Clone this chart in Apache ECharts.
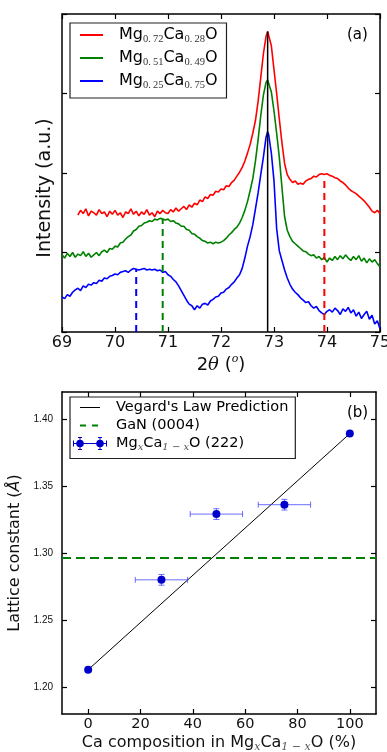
<!DOCTYPE html>
<html>
<head>
<meta charset="utf-8">
<script src="https://cdn.jsdelivr.net/npm/echarts@6/dist/echarts.min.js"></script>
<style>
html, body { margin: 0; padding: 0; background: #fff; }
#main { width: 387px; height: 752px; }
</style>
</head>
<body>
<div id="main"></div>
<script>
// ---- panel (a): XRD 2theta scans, offset intensities (a.u.) ----
const twoTheta = [
  69.00, 69.05, 69.10, 69.15, 69.20, 69.25, 69.30, 69.35, 69.40, 69.45,
  69.50, 69.55, 69.60, 69.65, 69.70, 69.75, 69.80, 69.85, 69.90, 69.95,
  70.00, 70.05, 70.10, 70.15, 70.20, 70.25, 70.30, 70.35, 70.40, 70.45,
  70.50, 70.55, 70.60, 70.65, 70.70, 70.75, 70.80, 70.85, 70.90, 70.95,
  71.00, 71.05, 71.10, 71.15, 71.20, 71.25, 71.30, 71.35, 71.40, 71.45,
  71.50, 71.55, 71.60, 71.65, 71.70, 71.75, 71.80, 71.85, 71.90, 71.95,
  72.00, 72.05, 72.10, 72.15, 72.20, 72.25, 72.30, 72.35, 72.40, 72.45,
  72.50, 72.55, 72.60, 72.65, 72.70, 72.75, 72.80, 72.85, 72.88, 72.90, 72.95,
  73.00, 73.05, 73.10, 73.15, 73.20, 73.25, 73.30, 73.35, 73.40, 73.45,
  73.50, 73.55, 73.60, 73.65, 73.70, 73.75, 73.80, 73.85, 73.90, 73.95,
  74.00, 74.05, 74.10, 74.15, 74.20, 74.25, 74.30, 74.35, 74.40, 74.45,
  74.50, 74.55, 74.60, 74.65, 74.70, 74.75, 74.80, 74.85, 74.90, 74.95,
  75.00
];
const iRed = [
  null, null, null, null, null, null, 1.47, 1.53, 1.49, 1.55,
  1.46, 1.52, 1.50, 1.47, 1.54, 1.49, 1.51, 1.45, 1.52, 1.48,
  1.53, 1.47, 1.50, 1.44, 1.51, 1.49, 1.55, 1.48, 1.52, 1.46,
  1.51, 1.48, 1.54, 1.47, 1.50, 1.45, 1.52, 1.49, 1.53, 1.50,
  1.49, 1.54, 1.51, 1.56, 1.52, 1.55, 1.58, 1.54, 1.60, 1.57,
  1.62, 1.60, 1.66, 1.64, 1.70, 1.68, 1.73, 1.72, 1.77, 1.76,
  1.80, 1.79, 1.84, 1.83, 1.88, 1.91, 1.96, 2.01, 2.07, 2.15,
  2.25, 2.36, 2.50, 2.66, 2.90, 3.20, 3.50, 3.72, 3.78, 3.76, 3.60,
  3.30, 3.00, 2.68, 2.38, 2.12, 1.98, 1.92, 1.88, 1.90, 1.86,
  1.87, 1.86, 1.90, 1.92, 1.93, 1.96, 1.95, 1.98, 1.99, 1.98,
  1.99, 1.97, 1.96, 1.94, 1.93, 1.90, 1.88, 1.85, 1.81, 1.78,
  1.76, 1.74, 1.71, 1.68, 1.65, 1.61, 1.57, 1.52, 1.50, 1.53,
  1.49
];
const iGreen = [
  0.97, 0.93, 0.99, 0.95, 1.00, 0.94, 0.98, 0.96, 1.01, 0.95,
  0.99, 0.94, 0.97, 1.00, 0.96, 1.01, 1.03, 1.00, 1.05, 1.04,
  1.08, 1.07, 1.12, 1.13, 1.17, 1.20, 1.22, 1.27, 1.29, 1.33,
  1.34, 1.37, 1.38, 1.40, 1.39, 1.42, 1.41, 1.43, 1.42, 1.41,
  1.42, 1.39, 1.40, 1.37, 1.36, 1.33, 1.33, 1.29, 1.28, 1.24,
  1.23, 1.20, 1.18, 1.15, 1.14, 1.12, 1.13, 1.11, 1.13, 1.12,
  1.13, 1.15, 1.18, 1.22, 1.25, 1.29, 1.32, 1.37, 1.44, 1.53,
  1.64, 1.78, 1.93, 2.15, 2.42, 2.72, 2.98, 3.14, 3.17, 3.15, 3.02,
  2.78, 2.50, 2.20, 1.82, 1.45, 1.28, 1.20, 1.14, 1.11, 1.08,
  1.05, 1.02, 1.01, 0.98, 0.96, 0.97, 0.93, 0.95, 0.91, 0.94,
  0.88, 0.93, 0.90, 0.95, 0.91, 0.96, 0.92, 0.97, 0.93, 0.90,
  0.95, 0.91, 0.96, 0.89, 0.93, 0.87, 0.92, 0.88, 0.91, 0.86,
  0.82
];
const iBlue = [
  0.44, 0.42, 0.47, 0.45, 0.50, 0.53, 0.55, 0.52, 0.58, 0.56,
  0.60, 0.59, 0.62, 0.61, 0.65, 0.64, 0.68, 0.67, 0.70, 0.71,
  0.73, 0.72, 0.75, 0.76, 0.77, 0.75, 0.78, 0.80, 0.79, 0.78,
  0.79, 0.80, 0.78, 0.79, 0.78, 0.79, 0.77, 0.78, 0.75, 0.76,
  0.72, 0.70, 0.66, 0.63, 0.58, 0.52, 0.46, 0.40, 0.35, 0.33,
  0.28, 0.33, 0.30, 0.35, 0.36, 0.34, 0.39, 0.41, 0.44, 0.45,
  0.49, 0.50, 0.54, 0.56, 0.60, 0.63, 0.68, 0.72, 0.80, 0.93,
  1.08, 1.20, 1.35, 1.55, 1.75, 1.98, 2.20, 2.45, 2.52, 2.48, 2.25,
  1.90, 1.30, 1.02, 0.90, 0.78, 0.68, 0.60, 0.54, 0.50, 0.47,
  0.43, 0.40, 0.37, 0.38, 0.33, 0.30, 0.32, 0.27, 0.24, 0.22,
  0.26, 0.28, 0.25, 0.30, 0.27, 0.22, 0.29, 0.26, 0.31, 0.24,
  0.28, 0.20, 0.25, 0.17, 0.22, 0.26, 0.16, 0.21, 0.10, 0.14,
  0.04
];
const sampleNames = ['Mg0.72Ca0.28O', 'Mg0.51Ca0.49O', 'Mg0.25Ca0.75O'];
const sampleColors = ['#ff0000', '#008000', '#0000ff'];
const peakPos = [73.95, 70.90, 70.40];   // fitted MgCaO (222) positions
const peakTop = [1.90, 1.42, 0.79];
const ganPeakPos = 72.88;
const ganPeakTop = 3.78;

// ---- panel (b): lattice constant vs Ca content ----
const caPct = [0, 28, 49, 75, 100];
const latticeA = [1.213, 1.280, 1.329, 1.336, 1.389];
const caErr = [0, 10, 10, 10, 0];
const latErr = [0, 0.004, 0.004, 0.004, 0];
const vegardCa = [0, 100];
const vegardA = [1.213, 1.389];
const ganA = 1.2963;
const caTicks = [0, 20, 40, 60, 80, 100];
const latTicks = [1.20, 1.25, 1.30, 1.35, 1.40];

const FONT = 'DejaVu Sans';
const curves = [iRed, iGreen, iBlue];

const chart = echarts.init(document.getElementById('main'));

function pairs(ys) {
  return twoTheta.map((x, i) => [x, ys[i]]);
}

// matplotlib-ish frame: inward ticks on all four sides
function frameAxis(gridIndex, position, extra) {
  return Object.assign({
    type: 'value',
    gridIndex: gridIndex,
    position: position,
    axisLine: { onZero: false, lineStyle: { color: '#000', width: 1.5 } },
    axisTick: { inside: true, length: 5, lineStyle: { color: '#000', width: 1.2 } },
    axisLabel: { show: false },
    splitLine: { show: false }
  }, extra);
}

const mgName = 'MgxCa1-xO (222)';

function renderErrBar(params, api) {
  const x = api.value(0), y = api.value(1), dx = api.value(2), dy = api.value(3);
  if (!dx && !dy) return null;
  const l = api.coord([x - dx, y]);
  const r = api.coord([x + dx, y]);
  const t = api.coord([x, y + dy]);
  const b = api.coord([x, y - dy]);
  const cap = 3;
  const style = { stroke: 'rgba(60,60,255,0.75)', lineWidth: 1 };
  const seg = (x1, y1, x2, y2) => ({ type: 'line', shape: { x1, y1, x2, y2 }, style: style });
  return {
    type: 'group',
    children: [
      seg(l[0], l[1], r[0], r[1]),
      seg(l[0], l[1] - cap, l[0], l[1] + cap),
      seg(r[0], r[1] - cap, r[0], r[1] + cap),
      seg(t[0], t[1], b[0], b[1]),
      seg(t[0] - cap, t[1], t[0] + cap, t[1]),
      seg(b[0] - cap, b[1], b[0] + cap, b[1])
    ]
  };
}

const series = [];
sampleNames.forEach(function (n, k) {
  series.push({
    name: n,
    type: 'line',
    xAxisIndex: 0,
    yAxisIndex: 0,
    data: pairs(curves[k]),
    symbol: 'none',
    lineStyle: { color: sampleColors[k], width: 1.6 },
    itemStyle: { color: sampleColors[k] },
    z: 2
  });
});
peakPos.forEach(function (p, k) {
  series.push({
    type: 'line',
    xAxisIndex: 0,
    yAxisIndex: 0,
    data: [[p, 0], [p, peakTop[k]]],
    symbol: 'none',
    lineStyle: { color: sampleColors[k], width: 2, type: [7, 5] },
    z: 3
  });
});
series.push({
  type: 'line',
  xAxisIndex: 0,
  yAxisIndex: 0,
  data: [[ganPeakPos, 0], [ganPeakPos, ganPeakTop]],
  symbol: 'none',
  lineStyle: { color: '#000', width: 1.5 },
  z: 4
});

series.push({
  name: "Vegard's Law Prediction",
  type: 'line',
  xAxisIndex: 2,
  yAxisIndex: 2,
  data: vegardCa.map((c, i) => [c, vegardA[i]]),
  symbol: 'none',
  lineStyle: { color: '#000', width: 1 },
  itemStyle: { color: '#000' },
  z: 2
});
series.push({
  name: 'GaN (0004)',
  type: 'line',
  xAxisIndex: 2,
  yAxisIndex: 2,
  data: [[-10, ganA], [110, ganA]],
  symbol: 'none',
  lineStyle: { color: '#008000', width: 2, type: [9, 5] },
  itemStyle: { color: '#008000' },
  z: 2
});
series.push({
  name: 'errbars',
  type: 'custom',
  xAxisIndex: 2,
  yAxisIndex: 2,
  renderItem: renderErrBar,
  encode: { x: 0, y: 1 },
  data: caPct.map((c, i) => [c, latticeA[i], caErr[i], latErr[i]]),
  z: 3
});
series.push({
  name: mgName,
  type: 'scatter',
  xAxisIndex: 2,
  yAxisIndex: 2,
  data: caPct.map((c, i) => [c, latticeA[i]]),
  symbolSize: 8,
  itemStyle: { color: '#0000cc', opacity: 1 },
  z: 4
});

const subStyle = { fontSize: 10.5, fontFamily: 'Liberation Serif', color: '#333', verticalAlign: 'bottom' };

const option = {
  animation: false,
  backgroundColor: '#fff',
  textStyle: { fontFamily: FONT },
  title: [
    { text: '(a)', left: 347, top: 28, padding: 0,
      textStyle: { fontSize: 15, fontWeight: 'normal', color: '#000', fontFamily: FONT } },
    { text: '(b)', left: 347, top: 406, padding: 0,
      textStyle: { fontSize: 15, fontWeight: 'normal', color: '#000', fontFamily: FONT } }
  ],
  grid: [
    { left: 62, top: 14, width: 318, height: 318, outerBoundsMode: 'none' },
    { left: 62, top: 392, width: 314, height: 322, outerBoundsMode: 'none' }
  ],
  legend: [
    {
      orient: 'vertical',
      left: 70,
      top: 23,
      padding: [4, 9, 7, 10],
      itemWidth: 23,
      itemHeight: 14,
      itemGap: 5,
      selectedMode: false,
      backgroundColor: '#fff',
      borderColor: '#222',
      borderWidth: 1.2,
      borderRadius: 0,
      itemStyle: { borderWidth: 0 },
      data: sampleNames.map(n => ({ name: n, icon: 'path://M0,0H23V2H0Z' })),
      formatter: function (name) {
        const m = name.match(/Mg([\d.]+)Ca([\d.]+)O/);
        const sp = s => s.replace('.', '.\u2009');
        return '{g| }{m|Mg}{s|' + sp(m[1]) + '}{m|Ca}{s|' + sp(m[2]) + '}{m|O}';
      },
      textStyle: {
        rich: {
          g: { width: 11 },
          m: { fontSize: 16, lineHeight: 20, fontFamily: FONT, color: '#000' },
          s: subStyle
        }
      }
    },
    {
      orient: 'vertical',
      left: 70,
      top: 397,
      padding: [3, 7, 6, 3],
      itemWidth: 34,
      itemHeight: 14,
      itemGap: 3,
      selectedMode: false,
      backgroundColor: '#fff',
      borderColor: '#222',
      borderWidth: 1.2,
      borderRadius: 0,
      itemStyle: { borderWidth: 0, opacity: 1 },
      data: [
        { name: "Vegard's Law Prediction", icon: 'path://M0,0L0,0M34,14L34,14M7,6.5H27V7.5H7Z' },
        { name: 'GaN (0004)', icon: 'path://M0,0L0,0M34,14L34,14M7,6H13V8H7ZM19,6H25V8H19Z' },
        { name: mgName, icon: 'path://M0,0L0,0M34,14L34,14M0,6.5H34V7.5H0ZM0,4H1V10H0ZM33,4H34V10H33Z' +
          'M6.5,0.5H7.5V13.5H6.5ZM5,0.5H9V1.5H5ZM5,12.5H9V13.5H5Z' +
          'M26.5,0.5H27.5V13.5H26.5ZM25,0.5H29V1.5H25ZM25,12.5H29V13.5H25Z' +
          'M3.2,7a3.8,3.8 0 1,1 7.6,0a3.8,3.8 0 1,1 -7.6,0Z' +
          'M23.2,7a3.8,3.8 0 1,1 7.6,0a3.8,3.8 0 1,1 -7.6,0Z' }
      ],
      formatter: function (name) {
        if (name === mgName) {
          return '{g| }{m|Mg}{s|x}{m|Ca}{s|1 \u2212 x}{m|O (222)}';
        }
        return '{g| }{m|' + name + '}';
      },
      textStyle: {
        rich: {
          g: { width: 4 },
          m: { fontSize: 14.5, lineHeight: 18, fontFamily: FONT, color: '#000' },
          s: { fontSize: 10, fontFamily: 'DejaVu Serif', fontStyle: 'italic', color: '#555', verticalAlign: 'bottom' }
        }
      }
    }
  ],
  xAxis: [
    frameAxis(0, 'bottom', {
      min: 69, max: 75, interval: 1,
      axisLabel: { show: true, margin: 3, fontSize: 16, color: '#111', fontFamily: FONT },
      name: '{a|2}{t|\u03b8}{a| (}{o|o}{a|)}',
      nameLocation: 'middle',
      nameGap: 22,
      nameTextStyle: {
        rich: {
          a: { fontSize: 18, lineHeight: 22, fontFamily: FONT, color: '#111' },
          t: { fontSize: 18, lineHeight: 22, fontFamily: 'DejaVu Serif', fontStyle: 'italic', color: '#111' },
          o: { fontSize: 11, fontFamily: 'DejaVu Serif', fontStyle: 'italic', color: '#111', verticalAlign: 'top' }
        }
      }
    }),
    frameAxis(0, 'top', { min: 69, max: 75, interval: 1 }),
    frameAxis(1, 'bottom', {
      min: -10, max: 110,
      axisTick: { inside: true, length: 5, lineStyle: { color: '#000', width: 1.2 }, customValues: caTicks },
      axisLabel: { show: true, margin: 3, fontSize: 14.5, color: '#111', fontFamily: FONT, customValues: caTicks },
      name: '{a|Ca composition in Mg}{s|x}{a|Ca}{s|1 \u2212 x}{a|O (%)}',
      nameLocation: 'middle',
      nameGap: 19,
      nameTextStyle: {
        rich: {
          a: { fontSize: 16, lineHeight: 20, fontFamily: FONT, color: '#111' },
          s: { fontSize: 11, fontFamily: 'DejaVu Serif', fontStyle: 'italic', color: '#555', verticalAlign: 'bottom' }
        }
      }
    }),
    frameAxis(1, 'top', {
      min: -10, max: 110,
      axisTick: { inside: true, length: 5, lineStyle: { color: '#000', width: 1.2 }, customValues: caTicks }
    })
  ],
  yAxis: [
    frameAxis(0, 'left', {
      min: 0, max: 4, interval: 1,
      name: 'Intensity (a.u.)',
      nameLocation: 'middle',
      nameGap: 7,
      nameTextStyle: { fontSize: 19, color: '#111', fontFamily: FONT, padding: [0, 30, 0, 0] }
    }),
    frameAxis(0, 'right', { min: 0, max: 4, interval: 1 }),
    frameAxis(1, 'left', {
      min: 1.18, max: 1.42,
      axisTick: { inside: true, length: 5, lineStyle: { color: '#000', width: 1.2 }, customValues: latTicks },
      axisLabel: {
        show: true, margin: 9, fontSize: 10, color: '#111', fontFamily: 'Liberation Sans',
        customValues: latTicks, formatter: v => v.toFixed(2)
      },
      name: '{a|Lattice constant (}{i|\u00c5}{a|)}',
      nameLocation: 'middle',
      nameGap: 31,
      nameTextStyle: {
        rich: {
          a: { fontSize: 16, lineHeight: 20, fontFamily: FONT, color: '#111' },
          i: { fontSize: 16, lineHeight: 20, fontFamily: FONT, fontStyle: 'italic', color: '#111' }
        }
      }
    }),
    frameAxis(1, 'right', {
      min: 1.18, max: 1.42,
      axisTick: { inside: true, length: 5, lineStyle: { color: '#000', width: 1.2 }, customValues: latTicks }
    })
  ],
  series: series
};

chart.setOption(option);
</script>
</body>
</html>
